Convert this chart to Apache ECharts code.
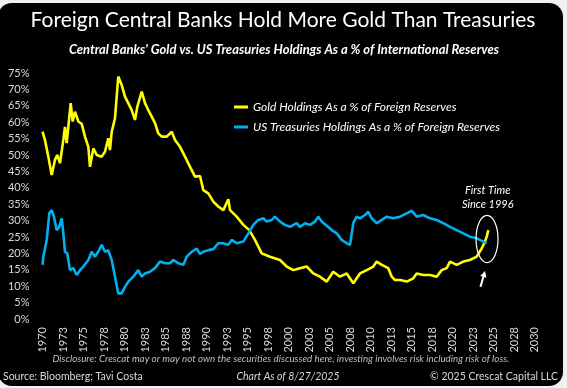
<!DOCTYPE html>
<html><head><meta charset="utf-8">
<script src="https://cdn.jsdelivr.net/npm/echarts@6/dist/echarts.min.js"></script>
<style>html,body{margin:0;padding:0;background:#eef1f3;}#c{width:567px;height:388px;}</style>
</head><body><div id="c"></div><script>
// ---- data (x in axis-label years) ----
const goldYears = [1970.00,1970.30,1970.71,1971.12,1971.52,1971.80,1972.13,1972.54,1972.74,1972.95,1973.44,1973.68,1973.96,1974.37,1974.78,1975.18,1975.59,1975.79,1976.20,1976.61,1977.22,1977.62,1978.02,1978.23,1978.44,1978.84,1979.24,1979.66,1980.06,1980.46,1980.88,1981.28,1981.56,1982.10,1982.50,1982.90,1983.32,1983.72,1984.12,1984.54,1985.15,1985.76,1986.16,1986.77,1987.38,1987.99,1988.60,1989.21,1989.61,1990.22,1990.83,1991.44,1992.05,1992.66,1992.87,1993.68,1994.49,1995.22,1995.91,1996.73,1997.74,1998.96,1999.78,2000.59,2001.40,2002.22,2003.02,2003.84,2004.66,2005.46,2006.28,2007.10,2007.90,2008.72,2009.54,2010.34,2010.76,2011.37,2012.17,2012.59,2012.99,2013.60,2014.41,2015.22,2015.63,2016.44,2017.26,2018.07,2018.68,2019.29,2019.70,2020.51,2021.32,2022.13,2022.95,2023.56,2023.96,2024.17,2024.37];
const goldValues = [57.1,54.6,49.5,43.9,48.5,50.0,47.5,54.6,58.6,53.6,65.8,60.2,63.2,60.2,59.5,55.6,52.5,46.4,52.0,50.0,49.5,51.0,55.1,51.5,57.1,61.2,73.9,71.3,67.8,65.8,63.7,60.7,64.7,69.3,65.8,63.7,61.7,59.7,56.6,55.6,55.6,57.1,54.6,52.5,49.5,46.4,43.4,43.6,39.3,38.3,35.8,34.3,33.2,36.5,33.2,31.2,28.7,27.1,24.1,20.0,19.0,18.0,16.0,14.9,15.5,16.0,13.9,12.9,11.4,14.4,12.9,13.9,10.9,13.9,14.9,16.0,17.5,16.5,15.5,12.9,11.9,11.9,11.4,12.4,13.9,13.4,13.4,12.9,14.9,15.5,17.5,16.5,17.5,18.0,19.0,21.5,23.6,25.1,27.1];
const ustYears = [1970.00,1970.10,1970.51,1970.83,1971.12,1971.40,1971.73,1972.05,1972.34,1972.54,1972.74,1973.02,1973.35,1973.76,1974.17,1974.57,1974.98,1975.59,1976.00,1976.40,1976.80,1977.22,1977.62,1978.02,1978.44,1978.84,1979.24,1979.66,1980.06,1980.46,1981.07,1981.68,1982.10,1982.50,1983.11,1983.72,1984.33,1984.94,1985.55,1985.95,1986.56,1987.17,1987.59,1988.20,1988.80,1989.21,1989.61,1990.22,1990.83,1991.44,1992.05,1992.66,1993.07,1993.68,1994.49,1995.10,1995.71,1996.32,1996.93,1997.34,1997.95,1998.35,1998.96,1999.57,2000.18,2001.00,2001.40,2002.01,2002.62,2003.23,2003.63,2004.05,2004.66,2005.27,2005.88,2006.49,2007.10,2007.50,2007.90,2008.32,2008.72,2009.33,2009.73,2010.15,2010.76,2011.37,2011.98,2012.78,2013.60,2014.41,2015.02,2015.63,2016.44,2017.26,2018.07,2018.88,2019.70,2020.51,2021.32,2022.13,2022.95,2023.76,2024.17];
const ustValues = [16.5,19.0,24.1,32.2,33.2,31.2,27.1,28.1,30.7,26.1,20.5,20.0,14.9,15.5,13.4,14.9,16.0,18.0,20.5,19.0,20.5,22.6,20.5,21.0,18.0,12.9,7.8,7.8,9.8,11.4,12.9,14.9,12.9,13.9,14.4,15.5,17.5,17.0,17.0,18.0,17.0,16.5,19.0,20.5,21.5,19.8,20.5,21.0,21.3,23.1,23.1,22.6,24.1,23.1,23.6,26.1,28.7,30.2,30.7,29.7,30.2,31.2,29.7,28.7,28.1,29.2,28.1,29.2,28.7,29.7,31.2,29.7,28.4,27.1,26.1,24.1,23.1,22.6,29.2,31.2,30.7,31.7,32.7,30.7,29.2,30.2,31.2,30.7,31.2,32.2,33.0,31.2,31.7,30.7,30.2,29.2,28.1,27.1,26.1,25.1,24.6,23.6,23.1];
const seriesNames = ['Gold Holdings As a % of Foreign Reserves', 'US Treasuries Holdings As a % of Foreign Reserves'];
const xMin = 1970, xMax = 2030, xStep = 2.5;
const yMin = 0, yMax = 75, yStep = 5;

const FONT = 'Lato';
const GOLD = '#ffff00', BLUE = '#00b0f0', LABEL = '#d9d9d9';

const chart = echarts.init(document.getElementById('c'), null, {renderer: 'canvas'});
const zip = (xs, ys) => xs.map((x, i) => [x, ys[i]]);

chart.setOption({
  animation: false,
  backgroundColor: 'transparent',
  grid: {left: 42.5, top: 73, width: 492, height: 246},
  xAxis: {
    type: 'value', min: xMin, max: xMax, interval: xStep,
    axisLine: {show: false}, axisTick: {show: false}, splitLine: {show: false},
    axisLabel: {rotate: 90, margin: 8, color: LABEL, fontSize: 11, fontFamily: FONT,
      formatter: v => String(Math.round(v))}
  },
  yAxis: {
    type: 'value', min: yMin, max: yMax, interval: yStep,
    axisLine: {show: false}, axisTick: {show: false}, splitLine: {show: false},
    axisLabel: {margin: 13, color: LABEL, fontSize: 11, fontFamily: FONT, formatter: '{value}%'}
  },
  legend: {
    orient: 'vertical', left: 229, top: 96, itemWidth: 14, itemHeight: 3, itemGap: 8,
    icon: 'rect', data: seriesNames,
    textStyle: {color: '#ffffff', fontStyle: 'italic', fontSize: 12, fontFamily: FONT}
  },
  series: [
    {name: seriesNames[0], type: 'line', data: zip(goldYears, goldValues), showSymbol: false,
     color: GOLD, lineStyle: {width: 2.6, color: GOLD}, z: 2},
    {name: seriesNames[1], type: 'line', data: zip(ustYears, ustValues), showSymbol: false,
     color: BLUE, lineStyle: {width: 2.6, color: BLUE}, z: 3}
  ]
});

const px = p => chart.convertToPixel({gridIndex: 0}, p);
const ellC = px([2024.21, 24.4]);
const ellE = px([2024.21 + 1.34, 24.4 + 7.2]);
const tip = px([2023.96, 14.6]);
const tail = px([2023.41, 9.8]);
const dx = tip[0] - tail[0], dy = tip[1] - tail[1];
const len = Math.hypot(dx, dy), ux = dx / len, uy = dy / len;
const headL = 6, headW = 3.2;
const base = [tip[0] - ux * headL, tip[1] - uy * headL];
const t1 = px([2024.3, 39.2]), t2 = px([2024.3, 35.0]);

function txt(text, x, y, opts) {
  return {type: 'text', z: 10, style: Object.assign({
    text, x, y, fill: '#ffffff', fontFamily: FONT, fontSize: 12,
    align: 'center', verticalAlign: 'middle', textAlign: 'center', textVerticalAlign: 'middle'
  }, opts || {})};
}

chart.setOption({
  graphic: [
    {type: 'rect', z: -10, silent: true, shape: {x: -2, y: 3, width: 565, height: 383, r: 14}, style: {fill: '#000000'}},
    txt('Foreign Central Banks Hold More Gold Than Treasuries', 283, 20, {fontSize: 21, fontWeight: 'normal'}),
    txt("Central Banks' Gold vs. US Treasuries Holdings As a % of International Reserves", 284, 50, {fontSize: 13, fontWeight: 'bold', fontStyle: 'italic'}),
    txt('First Time', t1[0], t1[1], {fontSize: 11, fontStyle: 'italic'}),
    txt('Since 1996', t2[0], t2[1], {fontSize: 11, fontStyle: 'italic'}),
    {type: 'ellipse', z: 10, shape: {cx: ellC[0], cy: ellC[1], rx: ellE[0] - ellC[0], ry: ellC[1] - ellE[1]},
     style: {fill: 'none', stroke: '#ffffff', lineWidth: 1.2}},
    {type: 'line', z: 10, shape: {x1: tail[0], y1: tail[1], x2: base[0], y2: base[1]}, style: {stroke: '#ffffff', lineWidth: 2}},
    {type: 'polygon', z: 10, shape: {points: [tip, [base[0] - uy * headW, base[1] + ux * headW], [base[0] + uy * headW, base[1] - ux * headW]]}, style: {fill: '#ffffff'}},
    txt('Disclosure: Crescat may or may not own the securities discussed here, investing involves risk including risk of loss.', 281, 359, {fontSize: 9.8, fontStyle: 'italic', fill: '#bfbfbf'}),
    txt('Source: Bloomberg; Tavi Costa', 3, 377, {fontSize: 10.5, fill: LABEL, align: 'left', textAlign: 'left'}),
    txt('Chart As of 8/27/2025', 288, 377, {fontSize: 10.5, fontStyle: 'italic', fill: LABEL}),
    txt('\u00a9 2025 Crescat Capital LLC', 558, 377, {fontSize: 10.5, fill: LABEL, align: 'right', textAlign: 'right'})
  ]
});
</script></body></html>
